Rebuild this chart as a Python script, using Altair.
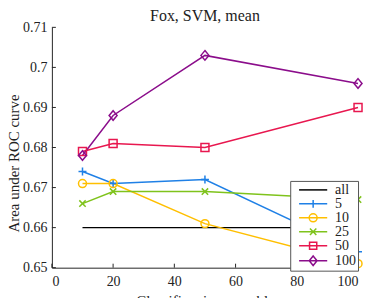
import altair as alt
import pandas as pd

x_vals = [10, 20, 50, 100]
series = ["all", "5", "10", "25", "50", "100"]
y_all = [0.660, 0.660, 0.660, 0.660]
y_5 = [0.674, 0.671, 0.672, 0.654]
y_10 = [0.671, 0.671, 0.661, 0.651]
y_25 = [0.666, 0.669, 0.669, 0.667]
y_50 = [0.679, 0.681, 0.680, 0.690]
y_100 = [0.678, 0.688, 0.703, 0.696]
y_ticks = [0.65, 0.66, 0.67, 0.68, 0.69, 0.70, 0.71]
x_ticks = [0, 20, 40, 60, 80, 100]

colors = ["#000000", "#1f80e6", "#ffbf00", "#7fc31c", "#e8174f", "#8b0d8b"]
markers = [
    "M0,0",
    "M-1,0H1M0,-1V1",
    "circle",
    "M-0.8,-0.8L0.8,0.8M-0.8,0.8L0.8,-0.8",
    "square",
    "M0,-1.2L1,0L0,1.2L-1,0Z",
]
# legend symbols (unit = 3px): line + marker
legend_paths = [
    "M-4.7,0H4.7",
    "M-4.7,0H4.7M0,-1.33V1.33",
    "M-4.7,0H4.7M-1.33,0A1.33,1.33 0 1,0 1.33,0A1.33,1.33 0 1,0 -1.33,0",
    "M-4.7,0H4.7M-1.07,-1.07L1.07,1.07M-1.07,1.07L1.07,-1.07",
    "M-4.7,0H4.7M-1.2,-1.2H1.2V1.2H-1.2Z",
    "M-4.7,0H4.7M0,-1.6L1.3,0L0,1.6L-1.3,0Z",
]

FONT = "Liberation Serif"

values = [y_all, y_5, y_10, y_25, y_50, y_100]
rows = []
for s, ys in zip(series, values):
    for x, y in zip(x_vals, ys):
        rows.append({"series": s, "x": x, "y": y})
df = pd.DataFrame(rows)

xs = alt.Scale(domain=[0, 100], nice=False)
ys_ = alt.Scale(domain=[0.65, 0.71], nice=False)

base = alt.Chart(df).encode(
    x=alt.X("x:Q", scale=xs, title="Classifiers in ensemble",
            axis=alt.Axis(values=x_ticks, grid=False, tickSize=0, labelPadding=7,
                          titlePadding=5)),
    y=alt.Y("y:Q", scale=ys_, title="Area under ROC curve",
            axis=alt.Axis(values=y_ticks, format="~g", grid=False, tickSize=0,
                          labelPadding=5, titleX=-38, titleY=136,
                          titleBaseline="middle")),
)

lines = base.mark_line(strokeWidth=1.5).encode(
    color=alt.Color("series:N", scale=alt.Scale(domain=series, range=colors), legend=None),
    detail="series:N",
)

points = base.transform_filter(alt.datum.series != "all").mark_point(
    filled=False, strokeWidth=1.5, size=64, opacity=1
).encode(
    color=alt.Color("series:N", scale=alt.Scale(domain=series, range=colors), legend=None),
    shape=alt.Shape("series:N", scale=alt.Scale(domain=series, range=markers), legend=None),
)

leg = dict(title=None, orient="none", legendX=239, legendY=154, rowPadding=0,
           labelFontSize=14, symbolSize=36)
legend_layer = alt.Chart(df).mark_point(filled=False, strokeWidth=1.5, clip=True).encode(
    x=alt.value(-1000),
    y=alt.value(-1000),
    color=alt.Color("series:N", scale=alt.Scale(domain=series, range=colors),
                    legend=alt.Legend(**leg)),
    shape=alt.Shape("series:N", scale=alt.Scale(domain=series, range=legend_paths),
                    legend=alt.Legend(**leg)),
)

ytick_rules = alt.Chart(pd.DataFrame({"t": y_ticks})).mark_rule(color="#262626").encode(
    y=alt.Y("t:Q", scale=ys_), x=alt.value(0), x2=alt.value(4)
)
xtick_rules = alt.Chart(pd.DataFrame({"t": x_ticks})).mark_rule(color="#262626").encode(
    x=alt.X("t:Q", scale=xs), y=alt.value(241), y2=alt.value(237)
)

chart = alt.layer(ytick_rules, xtick_rules, lines, points, legend_layer).resolve_scale(
    color="independent", shape="independent"
).properties(
    width=307, height=241,
    title=alt.Title("Fox, SVM, mean", fontSize=16, fontWeight="normal", offset=0, dy=4,
                    font=FONT, color="#222"),
    autosize=alt.AutoSizeParams(type="none"),
    padding={"left": 44, "top": 19, "right": 8, "bottom": 30},
).configure_view(stroke=None).configure_axis(
    domainColor="#262626", labelFont=FONT, titleFont=FONT,
    labelFontSize=14, titleFontSize=15, titleFontWeight="normal", labelColor="#222",
    titleColor="#222", domainWidth=1,
).configure_legend(
    labelFont=FONT, labelColor="#222",
    symbolStrokeWidth=1.5, symbolOpacity=1,
    strokeColor="#555", fillColor="white", padding=2,
    symbolOffset=14, labelOffset=15, cornerRadius=0,
)

chart.save("out.html", embed_options={"renderer": "svg", "actions": False})
